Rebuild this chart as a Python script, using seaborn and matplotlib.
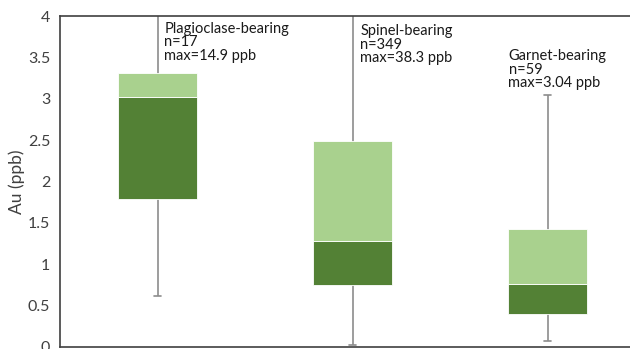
import matplotlib
matplotlib.use("Agg")
import matplotlib.pyplot as plt
import seaborn as sns
import pandas as pd

groups = ["Plagioclase-bearing", "Spinel-bearing", "Garnet-bearing"]
n_vals = [17, 349, 59]
max_vals = [14.9, 38.3, 3.04]
min_vals = [0.62, 0.02, 0.07]
q1_vals = [1.79, 0.75, 0.40]
median_vals = [3.02, 1.28, 0.76]
q3_vals = [3.31, 2.49, 1.43]
yticks = [0, 0.5, 1, 1.5, 2, 2.5, 3, 3.5, 4]
ytick_labels = ["0", "0.5", "1", "1.5", "2", "2.5", "3", "3.5", "4"]

dark = "#538135"
light = "#A9D18E"
whisk = "#8c8c8c"

sns.set_theme(style="white")
plt.rcParams["font.family"] = ["Lato", "DejaVu Sans"]

df = pd.DataFrame({
    "group": groups,
    "q1": q1_vals,
    "lower": [m - q for m, q in zip(median_vals, q1_vals)],
    "median": median_vals,
    "upper": [q - m for q, m in zip(q3_vals, median_vals)],
})

fig = plt.figure(figsize=(6.3, 3.49), dpi=100)
ax = fig.add_axes([60 / 630, 2 / 349, 585 / 630, 331 / 349])

# whiskers
for i, (lo, hi) in enumerate(zip(min_vals, max_vals)):
    ax.plot([i, i], [lo, hi], color=whisk, lw=1.2, zorder=1, solid_capstyle="butt")
    ax.plot([i - 0.02, i + 0.02], [lo, lo], color=whisk, lw=1.2, zorder=1)
    if hi <= 4:
        ax.plot([i - 0.02, i + 0.02], [hi, hi], color=whisk, lw=1.2, zorder=1)

sns.barplot(data=df, x="group", y="lower", bottom=df["q1"], color=dark,
            saturation=1, width=0.41, ax=ax, edgecolor="white", linewidth=0.6, zorder=2)
sns.barplot(data=df, x="group", y="upper", bottom=df["median"], color=light,
            saturation=1, width=0.41, ax=ax, edgecolor="white", linewidth=0.6, zorder=2)

ax.set_xlim(-0.5, 2.5)
ax.set_ylim(0, 4)
ax.set_yticks(yticks)
ax.set_yticklabels(ytick_labels)
ax.set_xticks([])
ax.set_xlabel("")
ax.set_ylabel("Au (ppb)", fontsize=12.5, color="#404040", labelpad=2)
ax.tick_params(axis="y", labelsize=11.5, colors="#404040", length=0, pad=7)
for s in ax.spines.values():
    s.set_color("#404040")
    s.set_linewidth(1.2)

label_pos = [(0.035, 3.93), (0.04, 3.9), (-0.2, 3.6)]
for i, (g, n, mx) in enumerate(zip(groups, n_vals, max_vals)):
    dx, ty = label_pos[i]
    ax.text(i + dx, ty, f"{g}\nn={n}\nmax={mx} ppb", fontsize=10.5,
            va="top", ha="left", color="#1a1a1a", linespacing=0.95)

fig.savefig("out.png", dpi=100)
